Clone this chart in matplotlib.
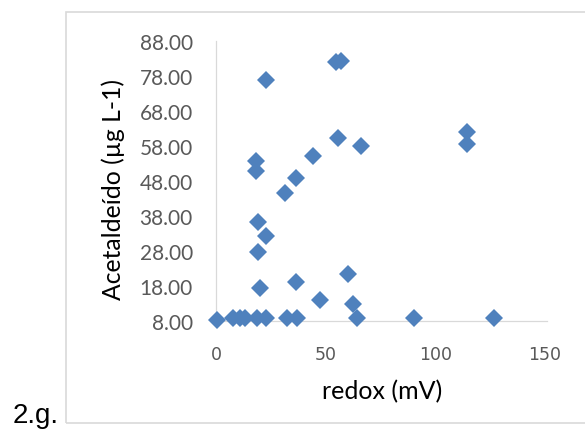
import matplotlib
matplotlib.use("Agg")
import matplotlib.pyplot as plt
from matplotlib.patches import Rectangle
from matplotlib.ticker import FixedLocator, FormatStrFormatter

# redox potential (mV) and acetaldehyde concentration (µg L-1)
redox = [0.5, 7.5, 11.0, 13.0, 18.4, 22.8, 32.1, 37.0, 64.0, 90.0, 126.5,
         22.6, 54.5, 56.7, 55.3, 66.2, 114.4, 114.3, 44.2, 18.3, 18.3,
         36.3, 31.1, 19.2, 22.6, 18.8, 60.3, 36.3, 19.9, 47.3, 62.2]
acetaldeido = [8.3, 8.9, 8.9, 8.9, 8.9, 8.9, 8.9, 8.9, 8.9, 8.9, 8.9,
               77.0, 82.0, 82.4, 60.3, 58.0, 62.0, 58.7, 55.2, 53.8, 50.8,
               48.9, 44.6, 36.4, 32.3, 27.8, 21.6, 19.3, 17.4, 14.0, 12.8]

x_ticks = [0, 50, 100, 150]
y_ticks = [8, 18, 28, 38, 48, 58, 68, 78, 88]

W, H = 585, 435
fig = plt.figure(figsize=(W / 100, H / 100), dpi=100)
fig.patch.set_facecolor("white")

# light grey frame around the chart area
fig.patches.append(Rectangle((66 / W, 1 - 424 / H), (W - 66 + 10) / W, (424 - 13) / H,
                             transform=fig.transFigure, fill=False,
                             edgecolor="#d9d9d9", linewidth=1.2, zorder=0))

x0, x1 = 216.4, 545.0
y_top, y_bot = 42.0, 322.2
ax = fig.add_axes([x0 / W, 1 - y_bot / H, (x1 - x0) / W, (y_bot - y_top) / H])
ax.set_facecolor("none")

ax.plot(redox, acetaldeido, linestyle="none", marker="D", markersize=9.2,
        color="#4f81bd", markeredgewidth=0, clip_on=False, zorder=3)

ax.set_xlim(0, 150)
ax.set_ylim(8, 88)
ax.xaxis.set_major_locator(FixedLocator(x_ticks))
ax.yaxis.set_major_locator(FixedLocator(y_ticks))
ax.yaxis.set_major_formatter(FormatStrFormatter("%.2f"))

for side in ("top", "right"):
    ax.spines[side].set_visible(False)
for side in ("left", "bottom"):
    ax.spines[side].set_color("#d9d9d9")
    ax.spines[side].set_linewidth(0.9)
ax.spines["bottom"].set_bounds(0, 150.8)

ax.tick_params(axis="both", length=0)
ax.tick_params(axis="y", pad=17, labelsize=15, labelcolor="#595959")
ax.tick_params(axis="x", pad=17, labelsize=12.5, labelcolor="#595959")
for lab in ax.get_yticklabels():
    lab.set_family("Lato")
for lab in ax.get_xticklabels():
    lab.set_family("DejaVu Sans")

fig.text(113 / W, 1 - 190 / H, "Acetaldeído (µg L-1)", rotation=90,
         ha="center", va="center", fontsize=17.8, family="Lato", color="black")
fig.text(382 / W, 1 - 399.3 / H, "redox (mV)", ha="center", va="baseline",
         fontsize=18, family="Lato", color="black")
fig.text(13 / W, 1 - 422.7 / H, "2.g.", ha="left", va="baseline",
         fontsize=20, family="Liberation Sans", color="black")

fig.savefig("out.png", dpi=100)
